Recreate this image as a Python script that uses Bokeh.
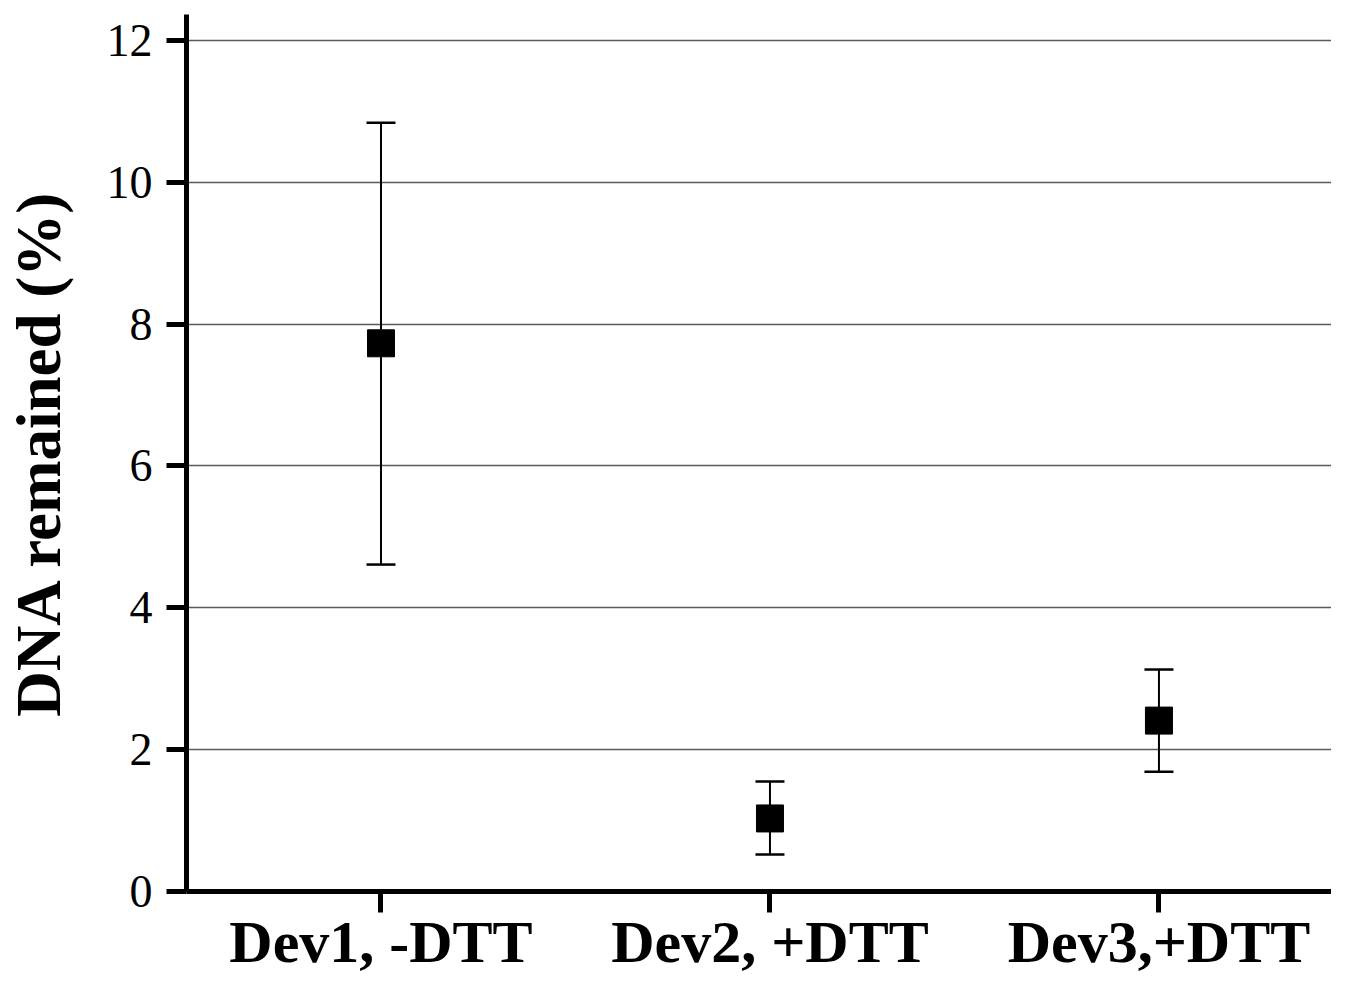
from bokeh.plotting import figure
from bokeh.models import ColumnDataSource, Whisker, TeeHead, Range1d, FixedTicker
from bokeh.embed import file_html
from bokeh.resources import INLINE

categories = ["Dev1, -DTT", "Dev2, +DTT", "Dev3,+DTT"]
means = [7.73, 1.03, 2.41]
upper = [10.84, 1.55, 3.13]
lower = [4.61, 0.52, 1.69]
y_ticks = [0, 2, 4, 6, 8, 10, 12]

xpos = [i + 0.5 for i in range(len(categories))]
src = ColumnDataSource(dict(x=xpos, y=means, upper=upper, lower=lower))

W, H = 1331, 978
left, top, bottom = 183, 14, 87
frame_w = W - left
frame_h = H - top - bottom

p = figure(width=W, height=H, output_backend="svg", toolbar_location=None,
           x_range=Range1d(0, frame_w / 390), y_range=Range1d(0, frame_h / 70.92))
p.min_border_left = left
p.min_border_right = 0
p.min_border_top = top
p.min_border_bottom = bottom
p.outline_line_color = None
p.background_fill_color = "white"
p.border_fill_color = "white"

p.xgrid.visible = False
p.ygrid.grid_line_color = "#5a5a5a"
p.ygrid.grid_line_width = 1.5

p.yaxis.ticker = FixedTicker(ticks=y_ticks)
p.xaxis.ticker = FixedTicker(ticks=xpos)
p.xaxis.major_label_overrides = {x: c for x, c in zip(xpos, categories)}

for ax in (p.xaxis[0], p.yaxis[0]):
    ax.axis_line_width = 5
    ax.axis_line_color = "black"
    ax.major_tick_line_width = 5
    ax.major_tick_line_color = "black"
    ax.major_tick_in = 0
    ax.major_tick_out = 20
    ax.minor_tick_line_color = None
p.xaxis.major_tick_out = 21

p.yaxis.major_label_text_font = "Liberation Serif"
p.yaxis.major_label_text_font_size = "46px"
p.yaxis.major_label_text_color = "black"
p.yaxis.major_label_standoff = 14
p.yaxis.axis_label = "DNA remained (%)"
p.yaxis.axis_label_text_font = "Liberation Serif"
p.yaxis.axis_label_text_font_style = "bold"
p.yaxis.axis_label_text_font_size = "63px"
p.yaxis.axis_label_text_color = "black"
p.yaxis.axis_label_standoff = 30

p.xaxis.major_label_text_font = "Liberation Serif"
p.xaxis.major_label_text_font_style = "bold"
p.xaxis.major_label_text_font_size = "60px"
p.xaxis.major_label_text_color = "black"
p.xaxis.major_label_standoff = -4

w = Whisker(base="x", upper="upper", lower="lower", source=src,
            line_color="black", line_width=2,
            upper_head=TeeHead(size=29, line_width=2.5, line_color="black"),
            lower_head=TeeHead(size=29, line_width=2.5, line_color="black"))
p.add_layout(w)

p.scatter("x", "y", source=src, marker="square", size=27,
          fill_color="black", line_color="black")

open("out.html", "w").write(file_html(p, INLINE))
